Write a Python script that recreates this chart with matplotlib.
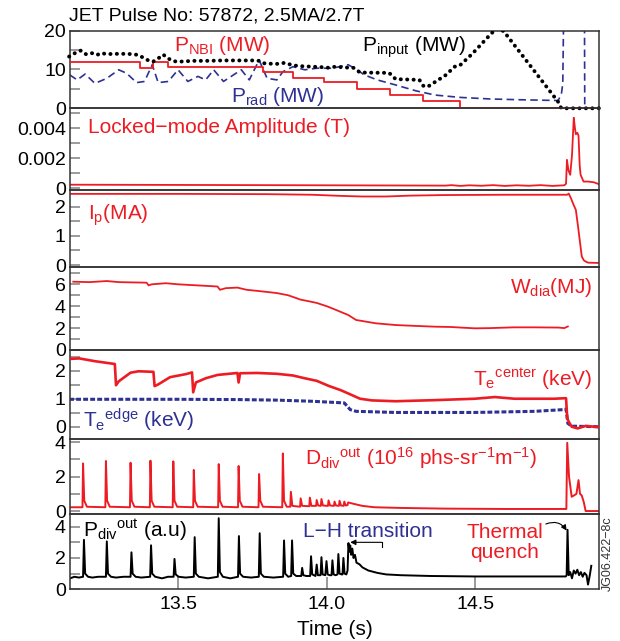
import matplotlib
matplotlib.use("Agg")
import matplotlib.pyplot as plt
from matplotlib.transforms import Bbox, TransformedBbox

plt.rcParams['font.family'] = ['Liberation Sans', 'DejaVu Sans']
plt.rcParams['mathtext.default'] = 'regular'

RED = '#ed1c24'
BLUE = '#2e3192'

# ---------------- heating / radiated power (MW) ----------------
t_nbi = [13.135, 13.370, 13.416, 13.466, 13.786, 13.886, 13.992, 14.103, 14.212, 14.323, 14.448, 14.92]
p_nbi = [12.0, 10.3, 12.0, 10.5, 9.3, 7.9, 6.7, 5.0, 3.35, 1.8, 0.0, 0.0]

t_input = [13.132, 13.152, 13.172, 13.189, 13.208, 13.225, 13.242, 13.258, 13.280, 13.303,
           13.325, 13.348, 13.365, 13.382, 13.399, 13.415, 13.432, 13.449, 13.466, 13.483,
           13.505, 13.550, 13.600, 13.650, 13.700, 13.750, 13.772, 13.785, 13.800, 13.830,
           13.860, 13.875, 13.890, 13.920, 13.950, 13.980, 14.000, 14.030, 14.060, 14.090,
           14.112, 14.210, 14.232, 14.312, 14.325, 14.339, 14.400, 14.431, 14.448, 14.490,
           14.555, 14.575, 14.596, 14.779, 14.790, 14.920]
p_input = [13.3, 14.2, 14.85, 13.9, 14.2, 13.7, 14.2, 13.9, 14.0, 14.0,
           14.0, 13.9, 13.7, 13.0, 12.3, 12.0, 12.8, 13.8, 12.8, 12.1,
           12.0, 12.2, 12.2, 12.3, 12.3, 12.3, 12.2, 11.6, 11.5, 11.4,
           11.7, 11.3, 11.0, 10.8, 10.7, 10.6, 10.4, 10.7, 10.5, 10.4,
           9.2, 9.1, 7.5, 7.3, 5.8, 5.5, 8.5, 10.7, 11.0, 14.0,
           19.3, 20.6, 19.8, 1.7, 0.0, 0.0]

t_rad = [13.134, 13.159, 13.186, 13.219, 13.259, 13.299, 13.326, 13.359, 13.386, 13.412,
         13.432, 13.466, 13.499, 13.532, 13.566, 13.592, 13.619, 13.652, 13.686, 13.712,
         13.739, 13.772, 13.799, 13.832, 13.852, 13.886, 13.926, 13.966, 14.019, 14.072,
         14.100, 14.126, 14.170, 14.232, 14.300, 14.365, 14.450, 14.550, 14.650, 14.779,
         14.790, 14.795, 14.798, 14.868, 14.869, 14.920]
p_rad = [8.6, 7.3, 8.8, 6.4, 7.7, 9.9, 9.0, 6.6, 6.9, 11.2,
         6.6, 6.9, 9.9, 6.9, 8.2, 7.3, 9.9, 6.9, 8.6, 9.9,
         7.3, 12.4, 7.7, 7.3, 9.4, 10.7, 9.9, 10.3, 10.3, 11.2,
         10.0, 8.6, 7.3, 6.0, 4.5, 3.4, 2.8, 2.4, 2.2, 2.0,
         3.5, 6.4, 25.0, 25.0, 0.0, 0.0]

# ---------------- locked-mode amplitude (T) ----------------
t_lm = [13.135, 13.600, 14.000, 14.400, 14.420, 14.450, 14.480, 14.520, 14.560, 14.600,
        14.640, 14.680, 14.720, 14.760, 14.800, 14.806, 14.809, 14.814, 14.820, 14.826,
        14.832, 14.836, 14.839, 14.844, 14.848, 14.852, 14.855, 14.865, 14.880, 14.900, 14.920]
b_lm = [0.00024, 0.00022, 0.00020, 0.00018, 0.00021, 0.00016, 0.00020, 0.00017, 0.00021, 0.00016,
        0.00020, 0.00017, 0.00021, 0.00016, 0.00020, 0.00030, 0.00190, 0.00120, 0.00090, 0.00220,
        0.00470, 0.00400, 0.00360, 0.00370, 0.00350, 0.00150, 0.00090, 0.00045, 0.00045, 0.00040, 0.00025]

# ---------------- plasma current (MA) ----------------
t_ip = [13.135, 13.500, 13.800, 13.950, 14.050, 14.120, 14.200, 14.280, 14.400, 14.600,
        14.810, 14.815, 14.822, 14.830, 14.839, 14.846, 14.852, 14.859, 14.866, 14.872, 14.880, 14.920]
ip = [2.44, 2.44, 2.43, 2.41, 2.37, 2.35, 2.35, 2.38, 2.40, 2.41,
      2.41, 2.45, 2.30, 2.10, 1.89, 1.35, 0.86, 0.29, 0.16, 0.12, 0.08, 0.07]

# ---------------- diamagnetic energy (MJ) ----------------
t_w = [13.146, 13.200, 13.259, 13.300, 13.393, 13.400, 13.410, 13.458, 13.500, 13.566,
       13.600, 13.632, 13.640, 13.660, 13.699, 13.730, 13.766, 13.800, 13.832, 13.870,
       13.912, 13.940, 13.966, 14.000, 14.032, 14.072, 14.099, 14.130, 14.165, 14.232,
       14.300, 14.365, 14.420, 14.450, 14.499, 14.550, 14.630, 14.700, 14.780, 14.800, 14.812]
w_dia = [6.24, 6.20, 6.30, 6.20, 6.15, 5.90, 6.00, 6.10, 6.00, 5.90,
         5.85, 5.80, 5.50, 5.65, 5.70, 5.50, 5.40, 5.30, 5.20, 5.00,
         4.60, 4.45, 4.30, 4.00, 3.65, 3.20, 2.74, 2.60, 2.44, 2.28,
         2.20, 2.13, 2.10, 2.05, 1.98, 2.00, 2.07, 2.07, 2.05, 2.00, 2.15]

# ---------------- electron temperatures (keV) ----------------
t_tc = [13.132, 13.166, 13.219, 13.286, 13.290, 13.299, 13.339, 13.366, 13.416, 13.420,
        13.432, 13.472, 13.526, 13.546, 13.550, 13.559, 13.592, 13.632, 13.699, 13.703,
        13.708, 13.766, 13.832, 13.886, 13.926, 13.966, 14.006, 14.046, 14.072, 14.112,
        14.152, 14.232, 14.365, 14.499, 14.566, 14.632, 14.766, 14.806, 14.810, 14.815,
        14.825, 14.845, 14.872, 14.921]
te_center = [2.42, 2.44, 2.34, 2.24, 1.48, 1.62, 1.93, 1.98, 1.96, 1.45,
             1.51, 1.77, 1.88, 1.94, 1.23, 1.58, 1.73, 1.85, 1.92, 1.58,
             1.91, 1.92, 1.89, 1.83, 1.73, 1.64, 1.46, 1.31, 1.19, 1.00,
             0.94, 0.91, 0.95, 1.00, 1.06, 1.00, 1.00, 1.02, 0.30, 0.18,
             0.00, -0.06, 0.03, -0.02]

t_te = [13.132, 13.300, 13.500, 13.700, 13.832, 13.950, 14.059, 14.079, 14.099, 14.232,
        14.499, 14.700, 14.795, 14.806, 14.812, 14.825, 14.921]
te_edge = [0.98, 0.98, 0.98, 0.97, 0.95, 0.91, 0.85, 0.61, 0.55, 0.51,
           0.51, 0.55, 0.61, 0.63, 0.12, 0.02, 0.00]

# ---------------- divertor D-alpha (1e16 ph/s/sr/m) ----------------
t_dd = [13.135,
        13.177, 13.179, 13.183, 13.192,
        13.254, 13.256, 13.260, 13.269,
        13.337, 13.339, 13.343, 13.352,
        13.404, 13.406, 13.410, 13.419,
        13.481, 13.483, 13.487, 13.496,
        13.550, 13.552, 13.556, 13.565,
        13.634, 13.636, 13.640, 13.649,
        13.701, 13.703, 13.707, 13.716,
        13.770, 13.772, 13.776, 13.785,
        13.850, 13.852, 13.856, 13.865,
        13.877, 13.879, 13.884, 13.910, 13.912, 13.917, 13.941, 13.943, 13.948,
        13.964, 13.966, 13.971, 13.980, 13.982, 13.987, 14.004, 14.006, 14.011,
        14.024, 14.026, 14.031, 14.041, 14.043, 14.048, 14.057, 14.059, 14.064,
        14.070, 14.072, 14.090, 14.120, 14.160, 14.250, 14.400, 14.600, 14.800,
        14.807, 14.810, 14.816, 14.825, 14.832, 14.841, 14.848, 14.853, 14.859,
        14.866, 14.872, 14.920]
d_div = [0.22,
         0.22, 2.77, 0.60, 0.25,
         0.22, 2.91, 0.60, 0.25,
         0.22, 2.81, 0.60, 0.25,
         0.22, 2.93, 0.60, 0.25,
         0.22, 2.89, 0.60, 0.25,
         0.22, 2.39, 0.60, 0.25,
         0.22, 2.73, 0.60, 0.25,
         0.22, 2.62, 0.60, 0.25,
         0.22, 2.15, 0.60, 0.25,
         0.22, 3.35, 0.60, 0.25,
         0.25, 1.12, 0.30, 0.25, 0.74, 0.30, 0.28, 0.78, 0.30,
         0.30, 0.64, 0.32, 0.30, 0.70, 0.32, 0.30, 0.62, 0.32,
         0.30, 0.55, 0.32, 0.30, 0.60, 0.32, 0.30, 0.55, 0.32,
         0.35, 0.50, 0.42, 0.30, 0.22, 0.18, 0.14, 0.12, 0.12,
         0.12, 3.97, 2.00, 0.83, 0.90, 1.00, 1.80, 1.00, 0.90,
         0.50, 0.00, 0.00]

# ---------------- divertor radiated power (a.u.) ----------------
t_pd = [13.135, 13.150, 13.165, 13.179, 13.182, 13.186, 13.196,
        13.210, 13.230, 13.256, 13.259, 13.263, 13.273,
        13.290, 13.315, 13.339, 13.342, 13.346, 13.356,
        13.375, 13.405, 13.408, 13.412, 13.422,
        13.445, 13.465, 13.484, 13.487, 13.491, 13.501,
        13.525, 13.552, 13.555, 13.559, 13.569,
        13.600, 13.633, 13.636, 13.640, 13.650,
        13.675, 13.701, 13.704, 13.708, 13.718,
        13.745, 13.771, 13.774, 13.778, 13.788,
        13.820, 13.853, 13.856, 13.860, 13.870, 13.880, 13.883, 13.887, 13.897,
        13.914, 13.917, 13.921, 13.931, 13.944, 13.947, 13.951, 13.962, 13.966, 13.970,
        13.979, 13.982, 13.986, 13.995, 13.999, 14.003, 14.010, 14.016, 14.019, 14.023,
        14.030, 14.036, 14.039, 14.043, 14.050, 14.053, 14.056, 14.060, 14.066,
        14.070, 14.073, 14.076, 14.079, 14.082, 14.086, 14.090, 14.095, 14.100, 14.110,
        14.120, 14.140, 14.170, 14.200, 14.250, 14.350, 14.500, 14.700, 14.805,
        14.808, 14.811, 14.815, 14.820, 14.826, 14.832, 14.838, 14.844, 14.850, 14.856,
        14.862, 14.868, 14.875, 14.880, 14.886, 14.891]
p_div = [0.70, 0.80, 0.75, 0.80, 3.16, 1.00, 0.80,
         0.75, 0.80, 0.80, 3.06, 1.00, 0.80,
         0.75, 0.80, 0.80, 2.36, 1.00, 0.80,
         0.75, 0.80, 2.81, 1.00, 0.80,
         0.70, 0.80, 0.80, 1.94, 0.95, 0.80,
         0.75, 0.80, 3.33, 1.00, 0.80,
         0.70, 0.80, 4.54, 1.10, 0.80,
         0.70, 0.80, 3.40, 1.00, 0.80,
         0.75, 0.80, 3.58, 1.00, 0.80,
         0.75, 0.80, 3.12, 1.00, 0.80, 0.85, 3.12, 1.00, 0.85,
         0.85, 1.37, 0.90, 0.85, 0.85, 2.11, 0.95, 0.85, 1.58, 0.90,
         0.90, 2.05, 0.95, 0.90, 1.80, 0.95, 0.90, 0.90, 1.85, 0.95,
         0.90, 0.95, 2.25, 1.00, 0.95, 0.95, 2.00, 1.00, 0.95,
         1.20, 2.95, 2.40, 2.80, 2.20, 2.60, 2.00, 2.20, 1.70, 1.60,
         1.40, 1.20, 1.05, 0.95, 0.90, 0.85, 0.82, 0.82, 0.82,
         0.90, 3.80, 0.90, 1.10, 0.70, 1.20, 1.00, 1.25, 0.90, 1.10,
         0.80, 1.05, 0.90, 0.30, 0.90, 1.50]

x_ticks = [13.5, 14.0, 14.5]
x_tick_labels = ['13.5', '14.0', '14.5']

# ---------------- layout ----------------
W, H = 620, 641
fig = plt.figure(figsize=(W / 100, H / 100), dpi=100)

LEFT, RIGHT = 70.0, 599.3
panel_px = [(30.5, 108.3), (108.3, 190.0), (190.0, 266.7), (266.7, 350.0),
            (350.0, 438.5), (438.5, 514.3), (514.3, 589.3)]
ylims = [(0, 20), (-0.000113, 0.00533), (-0.058, 2.573), (0, 7.61),
         (-0.42, 2.74), (-0.19, 4.22), (0, 4.79)]
major = [[0, 10, 20], [0, 0.002, 0.004], [0, 1, 2], [0, 2, 4, 6],
         [0, 1, 2], [0, 2, 4], [0, 2, 4]]
major_lab = [['0', '10', '20'], ['0', '0.002', '0.004'], ['0', '1', '2'],
             ['0', '2', '4', '6'], ['0', '1', '2'], ['0', '2', '4'], ['0', '2', '4']]
minor = [[5, 15], [0.001, 0.003, 0.005], [0.5, 1.5], [1, 3, 5, 7],
         [0.5, 1.5, 2.5], [1, 3], [1, 3]]

TICK_FS = 14
LABEL_FS = 15

axes = []
for i, (top, bot) in enumerate(panel_px):
    ax = fig.add_axes([LEFT / W, 1 - bot / H, (RIGHT - LEFT) / W, (bot - top) / H])
    ax.set_xlim(13.135, 14.918)
    ax.set_ylim(*ylims[i])
    ax.set_yticks(major[i])
    ax.set_yticklabels(major_lab[i])
    ax.set_yticks(minor[i], minor=True)
    ax.tick_params(axis='y', which='both', direction='in', length=7, width=1.1,
                   color='#808080', labelsize=TICK_FS, pad=3, right=False)
    ax.tick_params(axis='x', which='both', bottom=False, labelbottom=False, top=False)
    for s in ax.spines.values():
        s.set_color('#333333')
        s.set_linewidth(1.1)
    ax.set_facecolor('none')
    axes.append(ax)

ax1, ax2, ax3, ax4, ax5, ax6, ax7 = axes

# top panel: powers
ax1.step(t_nbi, p_nbi, where='post', color=RED, lw=1.3, zorder=3)
ax1.plot(t_rad, p_rad, color=BLUE, lw=1.2, linestyle=(0, (4.5, 2.6)), zorder=2)
ln, = ax1.plot(t_input, p_input, color='black', lw=2.8, linestyle=(0, (0.05, 1.6)),
               dash_capstyle='round', zorder=4)
ln.set_clip_box(TransformedBbox(Bbox([[-0.02, -0.06], [1.02, 1.0]]), ax1.transAxes))

# locked mode
ax2.plot(t_lm, b_lm, color=RED, lw=1.3)
# plasma current
ax3.plot(t_ip, ip, color=RED, lw=1.3)
# stored energy
ax4.plot(t_w, w_dia, color=RED, lw=1.3)
# temperatures
ax5.plot(t_tc, te_center, color=RED, lw=1.9, zorder=3)
ax5.plot(t_te, te_edge, color=BLUE, lw=2.2, linestyle=(0, (1.6, 0.7)), zorder=2)
# D-alpha
ax6.plot(t_dd, d_div, color=RED, lw=1.4)
# divertor radiation
ax7.plot(t_pd, p_div, color='black', lw=1.4)

ax7.set_xticks(x_ticks)
ax7.set_xticklabels(x_tick_labels)
ax7.tick_params(axis='x', which='major', bottom=True, labelbottom=True, direction='in',
                length=9, width=1.1, color='#808080', labelsize=TICK_FS, pad=5)
ax7.set_xlabel('Time (s)', fontsize=LABEL_FS, labelpad=5)


def ftext(x, y, s, **kw):
    kw.setdefault('fontsize', LABEL_FS)
    kw.setdefault('va', 'baseline')
    return fig.text(x / W, 1 - y / H, s, **kw)


ftext(69, 20.7, 'JET Pulse No: 57872, 2.5MA/2.7T', fontsize=14)
ftext(174, 51, 'P$_{NBI}$ (MW)', color=RED)
ftext(362, 51.5, 'P$_{input}$ (MW)', color='black')
ftext(231, 101.7, 'P$_{rad}$ (MW)', color=BLUE)
ftext(88, 133.3, 'Locked\u2212mode Amplitude (T)', color=RED)
ftext(88, 220, 'I$_{p}$(MA)', color=RED)
ftext(592, 292.7, 'W$_{dia}$(MJ)', color=RED, ha='right')
ftext(592, 386, 'T$_{e}$$^{center}$ (keV)', color=RED, ha='right')
ftext(83, 427.3, 'T$_{e}$$^{edge}$ (keV)', color=BLUE)
ftext(305, 465, 'D$_{div}$$^{out}$ (10$^{16}$ phs-sr$^{-1}$m$^{-1}$)', color=RED)
ftext(83, 536.7, 'P$_{div}$$^{out}$ (a.u)', color='black')
ftext(303, 536.7, 'L\u2212H transition', color=BLUE)
ftext(505, 537.7, 'Thermal', color=RED, ha='center')
ftext(505, 558.3, 'quench', color=RED, ha='center')
ftext(608, 554, 'JG06.422\u22128c', fontsize=9, color='#333333', rotation=90,
      ha='center', va='center')

# L-H transition pointer
ax7.plot([14.185, 14.185], [2.70, 3.02], color='black', lw=0.8)
ax7.annotate('', xy=(14.079, 3.0), xytext=(14.185, 3.0),
             arrowprops=dict(arrowstyle='-|>', lw=0.8, color='black',
                             mutation_scale=8, shrinkA=0, shrinkB=0))
# thermal quench pointer
ax7.annotate('', xy=(14.808, 3.75), xytext=(14.738, 4.17),
             arrowprops=dict(arrowstyle='-|>', lw=0.8, color='black',
                             mutation_scale=8, shrinkA=0, shrinkB=0,
                             connectionstyle='arc3,rad=-0.4'))

fig.savefig('out.png', dpi=100)
